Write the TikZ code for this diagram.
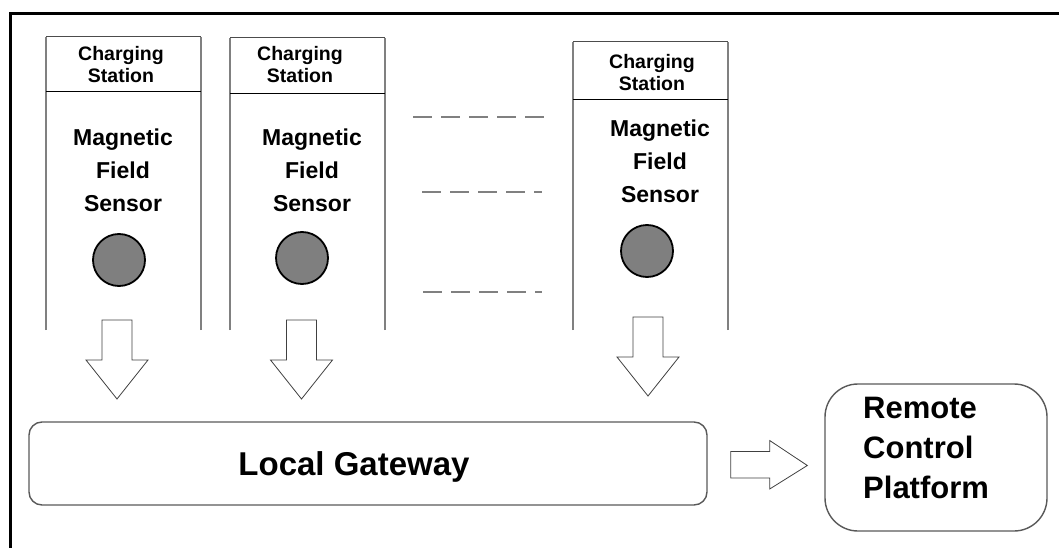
\documentclass[tikz,border=0pt]{standalone}
\usepackage{fontspec}
\setmainfont{Liberation Sans}
\usepackage{xcolor}
\usepackage{tikz}
\usetikzlibrary{calc, positioning}

\definecolor{vien}{HTML}{808080}
\definecolor{xam}{HTML}{7F7F7F}

\tikzset{
    tram/.style={font=\fontsize{19.5}{22}\selectfont\bfseries, align=center, inner sep=0pt},
    cambien/.style={font=\fontsize{23}{33}\selectfont\bfseries, align=center, inner sep=0pt},
    diem/.style={circle, draw=black, line width=1.8pt, fill=xam, minimum size=52pt, inner sep=0pt},
    muiten/.style={draw=black!75, line width=0.8pt, fill=white},
    hop/.style={draw=black!65, line width=1.4pt, rounded corners=13pt, inner sep=0pt},
    gach/.style={draw=gray, line width=1.3pt, dash pattern=on 19pt off 9pt}
}

\begin{document}
\begin{tikzpicture}[x=1pt, y=-1pt]
    \useasboundingbox (0,0) rectangle (1059,548);
    % 1. Khung ngoai
    \draw[line width=3pt] (10,548) -- (10,13.5) -- (1059,13.5);

    % 2. Cac cot tram sac
    \foreach \xl/\xr/\yt/\yd in {46/201/37/91, 230/385/38/93, 573/728/42/99} {
        \draw[draw=vien, line width=1.8pt] (\xl,330) -- (\xl,\yt);
        \draw[draw=vien, line width=1.8pt] (\xr,330) -- (\xr,\yt);
        \draw[black!70, line width=1pt] (\xl,\yt) -- (\xr,\yt);
        \draw[line width=0.9pt] (\xl,\yd) -- (\xr,\yd);
    }
    \node[tram] (tram1) at (121,65) {Charging\\Station};
    \node[tram] (tram2) at (300,65) {Charging\\Station};
    \node[tram] (tram3) at (652,72.5) {Charging\\Station};

    \node[cambien] (cb1) at (123,170) {Magnetic\\Field\\Sensor};
    \node[cambien] (cb2) at (312,170) {Magnetic\\Field\\Sensor};
    \node[cambien] (cb3) at (660,161.5) {Magnetic\\Field\\Sensor};

    \node[diem] (d1) at (119,260) {};
    \node[diem] (d2) at (302,258) {};
    \node[diem] (d3) at (647,251) {};

    % 3. Duong gach giua cac cot
    \draw[gach] (413,117) -- (545,117);
    \draw[gach] (422,192) -- (542,192);
    \draw[gach] (423,292) -- (542,292);

    % 4. Mui ten xuong
    \foreach \x/\y in {117/320, 301.5/320, 648/317}
        \draw[muiten] (\x-15,\y) -- (\x+15,\y) -- (\x+15,\y+40) -- (\x+31,\y+40)
            -- (\x,\y+79) -- (\x-31,\y+40) -- (\x-15,\y+40) -- cycle;

    % 5. Local Gateway va Remote Control Platform
    \node[hop, minimum width=678pt, minimum height=83pt] (gw) at (368,463.5) {};
    \node[font=\fontsize{33}{40}\selectfont\bfseries, inner sep=0pt] (gwtext) at (354,467) {Local Gateway};

    \node[hop, rounded corners=33pt, minimum width=222pt, minimum height=147pt] (rcp) at (936,457.5) {};
    \node[font=\fontsize{31}{40}\selectfont\bfseries, align=left, inner sep=0pt, anchor=west]
        (rcptext) at (863,447.5) {Remote\\Control\\Platform};

    \draw[muiten] ($(gw.east)+(23,-12)$) -- ++(39,0) -- ++(0,-11) -- ($(rcp.west)+(-17,8)$)
        -- ($(gw.east)+(62,25.5)$) -- ++(0,-11) -- ++(-39,0) -- cycle;
\end{tikzpicture}
\end{document}
